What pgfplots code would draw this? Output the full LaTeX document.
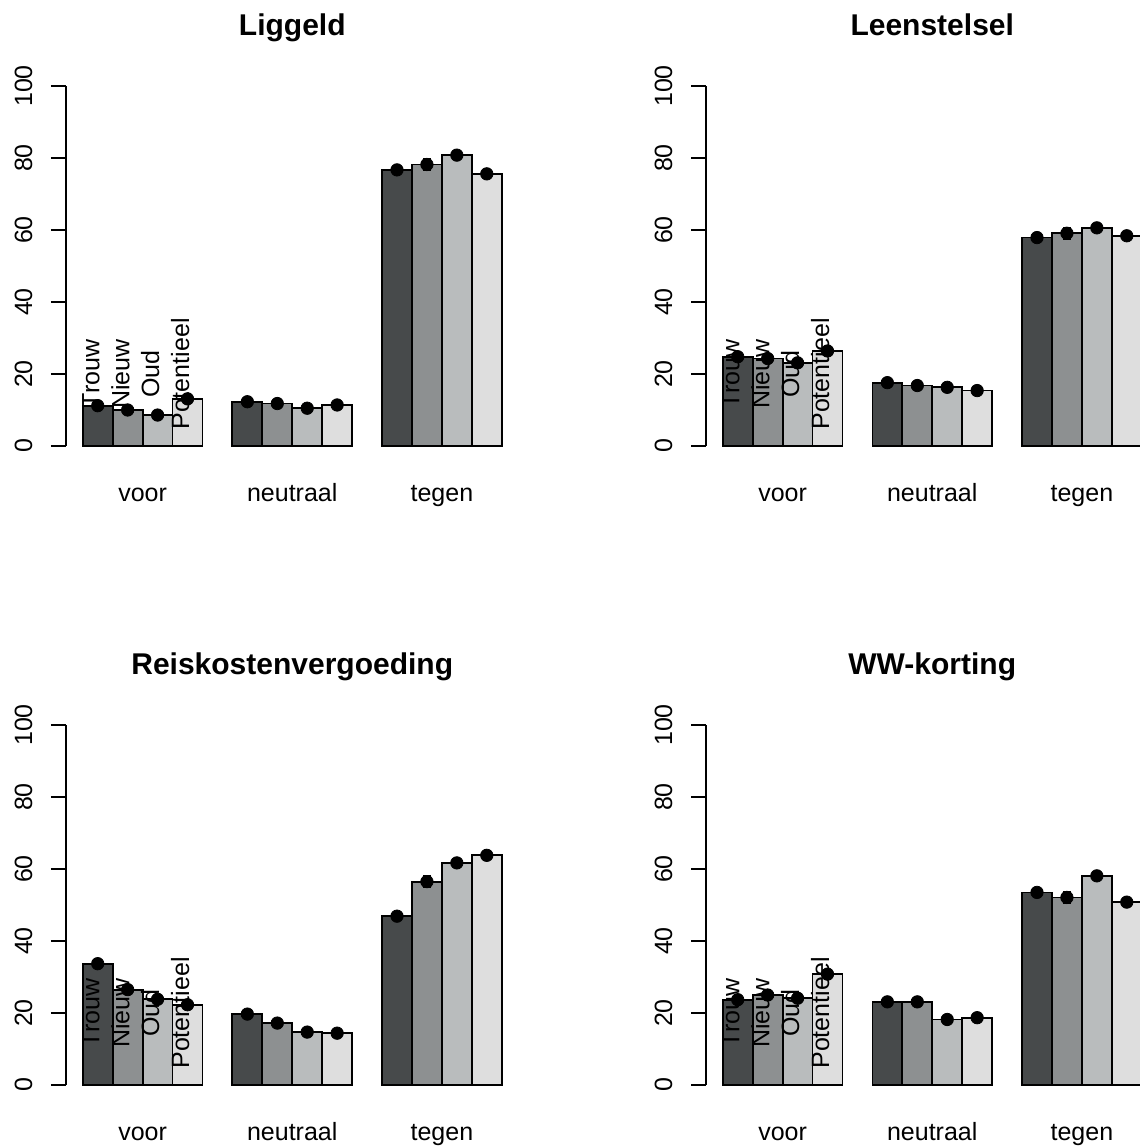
\documentclass[border=0pt]{standalone}
\usepackage{fontspec}
\setmainfont{Liberation Sans}
\usepackage{pgfplots}
\pgfplotsset{compat=1.18}
\definecolor{c1}{RGB}{71,74,75}
\definecolor{c2}{RGB}{141,144,145}
\definecolor{c3}{RGB}{185,188,189}
\definecolor{c4}{RGB}{222,222,222}
\newcommand\lab{\fontsize{12.5}{14}\selectfont}
\newcommand\ttl{\fontsize{15}{17}\selectfont\bfseries}
\pgfplotsset{
  panel/.style={
    scale only axis, width=226.25pt, height=180pt,
    xmin=0.44, xmax=15.56, ymin=0, ymax=100,
    axis x line=none, axis y line*=left,
    axis line style={-, line width=0.9pt, black},
    ytick={0,20,40,60,80,100}, yticklabels={},
    tick align=outside, major tick length=7.5pt,
    tick style={line width=0.9pt, black},
    clip=false, anchor=south west,
  },
  bars/.style={ybar, bar width=1, bar shift=0pt, draw=black, line width=0.9pt, fill=#1},
  dots/.style={only marks, mark=*, mark size=3.1pt, black,
    error bars/.cd, y dir=both, y explicit,
    error bar style={line width=0.9pt, black},
    error mark options={rotate=90, mark size=1.8pt, line width=0.9pt}},
}
\newcommand\deco[1]{%
  \node[font=\ttl, anchor=base] at (axis cs:8,114) {#1};
  \node[font=\lab, rotate=90, anchor=base, inner sep=0pt] at ([xshift=-17pt]axis cs:0.44,0) {0};
  \node[font=\lab, rotate=90, anchor=base, inner sep=0pt] at ([xshift=-17pt]axis cs:0.44,20) {20};
  \node[font=\lab, rotate=90, anchor=base, inner sep=0pt] at ([xshift=-17pt]axis cs:0.44,40) {40};
  \node[font=\lab, rotate=90, anchor=base, inner sep=0pt] at ([xshift=-17pt]axis cs:0.44,60) {60};
  \node[font=\lab, rotate=90, anchor=base, inner sep=0pt] at ([xshift=-17pt]axis cs:0.44,80) {80};
  \node[font=\lab, rotate=90, anchor=base, inner sep=0pt] at ([xshift=-17pt]axis cs:0.44,100) {100};
  \node[font=\lab, anchor=base] at (axis cs:3,-15.5) {voor};
  \node[font=\lab, anchor=base] at (axis cs:8,-15.5) {neutraal};
  \node[font=\lab, anchor=base] at (axis cs:13,-15.5) {tegen};
  \node[font=\lab, rotate=90, anchor=base, inner sep=0pt] at ([xshift=0.8pt]axis cs:1.5,20) {Trouw};
  \node[font=\lab, rotate=90, anchor=base, inner sep=0pt] at ([xshift=0.8pt]axis cs:2.5,20) {Nieuw};
  \node[font=\lab, rotate=90, anchor=base, inner sep=0pt] at ([xshift=0.8pt]axis cs:3.5,20) {Oud};
  \node[font=\lab, rotate=90, anchor=base, inner sep=0pt] at ([xshift=0.8pt]axis cs:4.5,20) {Potentieel};
}
\begin{document}
\begin{tikzpicture}
\path[use as bounding box] (0,0) rectangle (570pt,-573.5pt);
\clip (0,0) rectangle (570pt,-573.5pt);
% Liggeld
\begin{axis}[panel, at={(33pt,-223pt)}]
\addplot[bars=c1] coordinates {(1.5,11.2) (6.5,12.3) (11.5,76.7)};
\addplot[bars=c2] coordinates {(2.5,10.0) (7.5,11.8) (12.5,78.2)};
\addplot[bars=c3] coordinates {(3.5,8.6) (8.5,10.5) (13.5,80.8)};
\addplot[bars=c4] coordinates {(4.5,13.1) (9.5,11.4) (14.5,75.6)};
\addplot[dots] coordinates {
 (1.5,11.2) +- (0,0.7) (6.5,12.3) +- (0,0.7) (11.5,76.7) +- (0,0.8)
 (2.5,10.0) +- (0,1.2) (7.5,11.8) +- (0,1.2) (12.5,78.2) +- (0,1.6)
 (3.5,8.6) +- (0,0.6) (8.5,10.5) +- (0,0.6) (13.5,80.8) +- (0,0.7)
 (4.5,13.1) +- (0,0.6) (9.5,11.4) +- (0,0.6) (14.5,75.6) +- (0,0.7)};
\deco{Liggeld}
\end{axis}
% Leenstelsel
\begin{axis}[panel, at={(353pt,-223pt)}]
\addplot[bars=c1] coordinates {(1.5,24.8) (6.5,17.6) (11.5,57.9)};
\addplot[bars=c2] coordinates {(2.5,24.3) (7.5,16.8) (12.5,59.1)};
\addplot[bars=c3] coordinates {(3.5,23.1) (8.5,16.3) (13.5,60.6)};
\addplot[bars=c4] coordinates {(4.5,26.4) (9.5,15.4) (14.5,58.4)};
\addplot[dots] coordinates {
 (1.5,24.8) +- (0,0.8) (6.5,17.6) +- (0,0.7) (11.5,57.9) +- (0,0.9)
 (2.5,24.3) +- (0,1.3) (7.5,16.8) +- (0,1.1) (12.5,59.1) +- (0,1.5)
 (3.5,23.1) +- (0,0.7) (8.5,16.3) +- (0,0.6) (13.5,60.6) +- (0,0.8)
 (4.5,26.4) +- (0,0.7) (9.5,15.4) +- (0,0.6) (14.5,58.4) +- (0,0.8)};
\deco{Leenstelsel}
\end{axis}
% Reiskostenvergoeding
\begin{axis}[panel, at={(33pt,-542.5pt)}]
\addplot[bars=c1] coordinates {(1.5,33.7) (6.5,19.7) (11.5,46.9)};
\addplot[bars=c2] coordinates {(2.5,26.5) (7.5,17.2) (12.5,56.5)};
\addplot[bars=c3] coordinates {(3.5,23.8) (8.5,14.7) (13.5,61.7)};
\addplot[bars=c4] coordinates {(4.5,22.3) (9.5,14.4) (14.5,63.8)};
\addplot[dots] coordinates {
 (1.5,33.7) +- (0,0.8) (6.5,19.7) +- (0,0.7) (11.5,46.9) +- (0,0.9)
 (2.5,26.5) +- (0,1.3) (7.5,17.2) +- (0,1.1) (12.5,56.5) +- (0,1.6)
 (3.5,23.8) +- (0,0.7) (8.5,14.7) +- (0,0.6) (13.5,61.7) +- (0,0.8)
 (4.5,22.3) +- (0,0.7) (9.5,14.4) +- (0,0.6) (14.5,63.8) +- (0,0.8)};
\deco{Reiskostenvergoeding}
\end{axis}
% WW-korting
\begin{axis}[panel, at={(353pt,-542.5pt)}]
\addplot[bars=c1] coordinates {(1.5,23.7) (6.5,23.1) (11.5,53.5)};
\addplot[bars=c2] coordinates {(2.5,25.0) (7.5,23.1) (12.5,52.1)};
\addplot[bars=c3] coordinates {(3.5,24.1) (8.5,18.2) (13.5,58.1)};
\addplot[bars=c4] coordinates {(4.5,30.8) (9.5,18.7) (14.5,50.8)};
\addplot[dots] coordinates {
 (1.5,23.7) +- (0,0.8) (6.5,23.1) +- (0,0.8) (11.5,53.5) +- (0,0.9)
 (2.5,25.0) +- (0,1.3) (7.5,23.1) +- (0,1.3) (12.5,52.1) +- (0,1.6)
 (3.5,24.1) +- (0,0.7) (8.5,18.2) +- (0,0.6) (13.5,58.1) +- (0,0.8)
 (4.5,30.8) +- (0,0.7) (9.5,18.7) +- (0,0.6) (14.5,50.8) +- (0,0.8)};
\deco{WW-korting}
\end{axis}
\end{tikzpicture}
\end{document}
